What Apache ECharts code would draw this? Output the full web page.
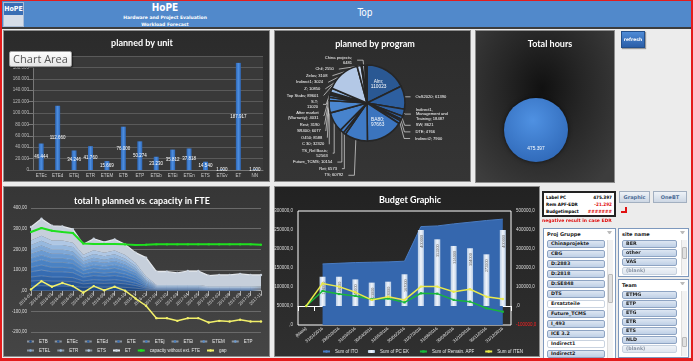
<!DOCTYPE html>
<html>
<head>
<meta charset="utf-8">
<title>HoPE - Top</title>
<script src="https://cdn.jsdelivr.net/npm/echarts@6.0.0/dist/echarts.min.js"></script>
<style>
html,body{margin:0;padding:0;}
body{width:693px;height:361px;overflow:hidden;background:#ececec;position:relative;font-family:'DejaVu Sans',sans-serif;}
.abs{position:absolute;box-sizing:border-box;}
#frame{left:0;top:0;width:693px;height:361px;border:2px solid #e31c1c;border-top-width:1px;border-bottom-width:3px;z-index:6;pointer-events:none;}
#header{left:2px;top:1px;width:689px;height:27px;background:#5189cb;z-index:1;}
#hline{left:2px;top:27px;width:689px;height:2px;background:#3c3c3c;z-index:1;}
.htxt{position:absolute;color:#fff;font-weight:bold;white-space:nowrap;transform:translateX(-50%);text-align:center;}
#logo{left:3px;top:2px;width:21px;height:25px;border:1px solid #a9bcd6;z-index:2;background:#d6dde8;}
#logoTop{left:0;top:0;width:19px;height:12px;background:#3a6eb4;color:#fff;font:bold 7px 'DejaVu Sans Condensed','DejaVu Sans';line-height:12px;text-align:center;}
.panel{border:1px solid #8c8c8c;z-index:1;}
#p1{left:3px;top:30px;width:267px;height:152px;background:linear-gradient(#2b2b2b,#363636);}
#p2{left:274px;top:30px;width:197px;height:152px;background:linear-gradient(#2c2c2c,#353535);}
#p3{left:475px;top:30px;width:140px;height:153px;background:radial-gradient(ellipse at 48% 38%,#111 0%,#262626 40%,#3d3d3d 90%);}
#p4{left:3px;top:186px;width:267px;height:171px;background:linear-gradient(#363636,#454545);}
#p5{left:274px;top:186px;width:266px;height:171px;background:linear-gradient(#222,#303030);}
#chart{left:0;top:0;width:693px;height:361px;z-index:3;}
#chartArea{left:9px;top:51px;width:63px;height:16px;z-index:4;background:linear-gradient(#fdfdfd,#e6e6e6);border:1px solid #9a9a9a;border-radius:2px;color:#555;font:11px 'Open Sans','Liberation Sans',sans-serif;line-height:14px;text-align:center;box-shadow:1px 1px 1px rgba(0,0,0,0.4);}
.btn{z-index:4;text-align:center;font-weight:bold;white-space:nowrap;}
#refresh{left:621px;top:31px;width:24px;height:17px;background:linear-gradient(#4f8bd6,#2a5ea8);border:1px solid #24508c;color:#fff;font-size:4.5px;line-height:15px;box-shadow:1px 1px 1px rgba(0,0,0,0.35);}
.gbtn{top:191px;height:12px;background:linear-gradient(#eef2f7,#cdd7e4);border:1px solid #a2afc0;color:#4b6b96;font-size:5px;line-height:10px;}
#info{left:542px;top:191px;width:74px;height:26px;background:#fff;border:2px solid #222;z-index:4;font-weight:bold;font-size:4.6px;font-family:'DejaVu Sans Condensed','DejaVu Sans';}
.row{position:absolute;left:2px;right:2px;height:7px;line-height:7px;white-space:nowrap;}
.row span.v{position:absolute;right:0;top:0;}
.red{color:#e01010;}
#note{left:542px;top:217px;width:80px;height:7px;z-index:4;color:#e01010;font:bold 4.5px 'DejaVu Sans';line-height:7px;white-space:nowrap;}
#arrow{left:621px;top:207px;width:6px;height:6px;z-index:4;border-right:2px solid #e01010;border-bottom:2px solid #e01010;}
.slicer{background:#fff;border:1px solid #7d98bd;z-index:4;}
.sh{position:absolute;left:3px;top:2px;font:bold 5px 'DejaVu Sans';color:#222;white-space:nowrap;}
.filt{position:absolute;right:3px;top:2px;width:5px;height:5px;border-top:3px solid #bbb;border-left:2px solid transparent;border-right:2px solid transparent;box-sizing:border-box;}
.it{position:absolute;height:8px;border:1px solid #8ea4c3;border-radius:2px;background:linear-gradient(#dde6f2,#bfd0e6);font:bold 4.8px 'DejaVu Sans';line-height:6px;padding-left:3px;color:#1c1c1c;box-sizing:border-box;white-space:nowrap;overflow:hidden;}
.it.w{background:#fff;border-color:#c9d3e0;}
.it.f{color:#8a96a6;background:linear-gradient(#eef2f7,#dfe6ef);border-color:#c6d1de;}
.sb{position:absolute;width:5px;background:#f2f2f2;border-left:1px solid #ddd;}
.thumb{position:absolute;left:0;width:5px;background:#e0e0e0;border:1px solid #b9b9b9;box-sizing:border-box;border-radius:1px;}
</style>
</head>
<body>
<div id="frame" class="abs"></div>
<div id="header" class="abs">
  <div class="htxt" style="left:163px;top:1px;font-size:10px;font-family:'DejaVu Sans Condensed','DejaVu Sans';">HoPE</div>
  <div class="htxt" style="left:163px;top:14px;font-size:4.5px;">Hardware and Project Evaluation</div>
  <div class="htxt" style="left:163px;top:21px;font-size:4.5px;">Workload Forecast</div>
  <div class="htxt" style="left:363px;top:6px;font-size:10px;font-weight:normal;font-family:'DejaVu Sans Condensed','DejaVu Sans';">Top</div>
</div>
<div id="hline" class="abs"></div>
<div id="logo" class="abs"><div id="logoTop" class="abs">HoPE</div></div>

<div id="p1" class="abs panel"></div>
<div id="p2" class="abs panel"></div>
<div id="p3" class="abs panel"></div>
<div id="p4" class="abs panel"></div>
<div id="p5" class="abs panel"></div>

<div id="chart" class="abs"></div>
<div id="chartArea" class="abs">Chart Area</div>

<div id="refresh" class="abs btn">refresh</div>
<div class="abs btn gbtn" style="left:619px;width:31px;">Graphic</div>
<div class="abs btn gbtn" style="left:653px;width:34px;">OneBT</div>

<div id="info" class="abs">
  <div class="row" style="top:1px;">Label PC<span class="v">475.397</span></div>
  <div class="row" style="top:8px;">Rem APF-EDR<span class="v red">-21.292</span></div>
  <div class="row" style="top:15px;">Budgetimpact<span class="v red">#######</span></div>
</div>
<div id="note" class="abs">negative result in case EDR</div>
<div id="arrow" class="abs"></div>

<div class="abs slicer" style="left:543px;top:228px;width:73px;height:140px;">
  <div class="sh">Proj Gruppe</div><div class="filt"></div>
  <div class="it" style="left:3px;top:11px;width:58px;">Chinaprojekte</div>
  <div class="it" style="left:3px;top:21px;width:58px;">CBG</div>
  <div class="it" style="left:3px;top:31px;width:58px;">D:2883</div>
  <div class="it" style="left:3px;top:41px;width:58px;">D:2818</div>
  <div class="it" style="left:3px;top:51px;width:58px;">D:SE848</div>
  <div class="it" style="left:3px;top:61px;width:58px;">DTS</div>
  <div class="it w" style="left:3px;top:71px;width:58px;">Ersatzteile</div>
  <div class="it" style="left:3px;top:81px;width:58px;">Future_TCMS</div>
  <div class="it" style="left:3px;top:91px;width:58px;">I_493</div>
  <div class="it" style="left:3px;top:101px;width:58px;">ICE 3.2</div>
  <div class="it w" style="left:3px;top:111px;width:58px;">Indirect1</div>
  <div class="it" style="left:3px;top:121px;width:58px;">Indirect2</div>
  <div class="sb" style="left:63px;top:11px;height:125px;"><div class="thumb" style="top:34px;height:29px;"></div></div>
</div>

<div class="abs slicer" style="left:618px;top:228px;width:71px;height:49px;">
  <div class="sh">site name</div><div class="filt"></div>
  <div class="it" style="left:3px;top:11px;width:55px;">BER</div>
  <div class="it" style="left:3px;top:20px;width:55px;">other</div>
  <div class="it" style="left:3px;top:29px;width:55px;">VAS</div>
  <div class="it f" style="left:3px;top:38px;width:55px;">(blank)</div>
  <div class="sb" style="left:62px;top:11px;height:35px;"><div class="thumb" style="top:7px;height:12px;"></div></div>
</div>

<div class="abs slicer" style="left:618px;top:279px;width:71px;height:79px;">
  <div class="sh">Team</div><div class="filt"></div>
  <div class="it" style="left:3px;top:11px;width:55px;">ETMG</div>
  <div class="it" style="left:3px;top:20px;width:55px;">ETP</div>
  <div class="it" style="left:3px;top:29px;width:55px;">ETG</div>
  <div class="it" style="left:3px;top:38px;width:55px;">ETR</div>
  <div class="it" style="left:3px;top:47px;width:55px;">ETS</div>
  <div class="it" style="left:3px;top:56px;width:55px;">NLD</div>
  <div class="it f" style="left:3px;top:65px;width:55px;">(blank)</div>
  <div class="sb" style="left:62px;top:11px;height:65px;"><div class="thumb" style="top:46px;height:10px;"></div></div>
</div>

<script>
// ---------------- data ----------------
const unitCats = ['ETEc','ETEd','ETEj','ETR','ETEM','ETB','ETP','ETEb','ETEi','ETEn','ETS','ETEv','ET','NN'];
const unitHours = [46444,112660,34246,41760,15669,76000,50274,23230,35812,37818,14540,1000,187917,1000];

const progNames = ['Alm','OxS2020','Indirect1,\nManagement and\nTraining','SW','DTE','Indirect2','BA80','TS','Ret','Future_TCMS','TS_Rel Basis','C 30','O450','SR400','Rest','After market\n(Warranty)','S.T','Top Stabs','Z','Indirect1','China projects','Zelos','Chil'];
const progHours = [110023,61390,18487,8621,4766,7900,97663,60792,6573,10154,52563,32320,8588,6077,3190,4031,11020,89601,10850,3024,6481,3108,2550];

const totalHours = 475397;

const months = ['2016-01','2016-02','2016-03','2016-04','2016-05','2016-06','2016-07','2016-08','2016-09','2016-10','2016-11','2016-12','2017-01','2017-02','2017-03','2017-04','2017-05','2017-06','2017-07','2017-08','2017-09','2017-10','2017-11'];
const teamNames = ['ETB','ETEc','ETEd','ETE','ETEj','ETEi','ETEM','ETP','ETEL','ETR','ETS','ET'];
const hETB  = [22,24,22,22,21,16,18,17,18,16,12,6,4,4,4,4,4,3,3,3,3,3,3];
const hETEc = [24,26,24,24,23,17,19,18,19,17,13,6,3,3,3,3,3,3,3,3,3,3,3];
const hETEd = [20,22,20,20,19,14,16,15,16,14,11,5,2,2,2,2,2,2,2,2,2,2,2];
const hETE  = [25,28,25,25,24,18,20,19,20,18,14,6,3,3,3,3,3,2,2,2,2,2,2];
const hETEj = [22,24,22,22,21,16,17,16,17,15,12,5,2,2,2,2,2,2,2,2,2,2,2];
const hETEi = [24,26,24,24,23,17,19,18,19,17,13,6,2,2,2,2,2,2,2,2,2,2,2];
const hETEM = [20,22,20,20,19,14,16,15,16,14,11,5,2,2,2,2,2,1,1,1,1,1,1];
const hETP  = [22,24,22,22,21,16,18,17,18,16,12,6,2,2,2,2,2,1,1,1,1,1,1];
const hETEL = [20,22,20,20,19,14,16,15,16,14,11,6,2,2,2,2,2,1,1,1,1,1,1];
const hETR  = [22,24,22,22,21,16,18,16,17,15,12,8,2,2,2,2,2,1,1,1,1,1,1];
const hETS  = [22,24,22,22,21,16,18,17,18,16,13,10,3,3,3,3,3,2,2,2,2,2,2];
const hET   = [65,82,71,68,66,50,56,52,54,52,50,91,65,65,59,68,68,53,56,56,61,56,56];
const capacity = [284,303,290,284,279,228,226,226,226,224,221,222,224,224,224,224,224,224,224,224,224,224,222];
const gap = [6,46,19,37,22,-10,22,2,19,0,-38,-73,-133,-133,-146,-133,-133,-154,-146,-149,-141,-149,-149];

const budgetCats = ['(blank)','31/01/2016','29/02/2016','31/03/2016','30/04/2016','31/05/2016','30/06/2016','31/07/2016','31/08/2016','30/09/2016','31/10/2016','30/11/2016','31/12/2016'];
const sumITO = [null,160700,162500,164300,165200,166100,167900,259000,260700,266100,270500,275000,278600];
const sumPCEK = [null,154000,154000,140000,123000,128000,167000,400000,351000,316000,304000,272000,400000];
const sumRemainAPF = [0,79000,63000,53000,35000,40000,19000,67000,65000,32000,23000,-12000,-30000];
const sumITEN = [0,119000,102000,72000,32000,49000,32000,102000,102000,75000,88000,49000,37000];

// ---------------- styles ----------------
const teamSeriesData = [hETB,hETEc,hETEd,hETE,hETEj,hETEi,hETEM,hETP,hETEL,hETR,hETS,hET];
const teamColors = ['#1f4a85','#275696','#2f62a5','#366cb2','#3f77bb','#4a82c3','#588dca','#6a9ad1','#7fa8d7','#96b8de','#afc7e4','#c6cfdb'];
const progColors = ['#2a5893','#2d5fa0','#3063a6','#3366aa','#3569ad','#386db1','#3b74be','#3f7ac5','#417dc8','#447fca','#4783cd','#4b87d0','#518bd1','#5890d3','#6196d5','#6c9dd7','#8fb3df','#b3c8e6','#c3d3ec','#cfdbf0','#d9e2f3','#e2e9f5','#eaeff7'];
const insideLabel = new Set(['Alm','BA80']);
const wrapLabel = new Set(['Alm','BA80','TS_Rel Basis','S.T','China projects']);

const deFmt = v => Number(v).toLocaleString('de-DE');
const font = "'Liberation Sans', sans-serif";
const titleStyle = {color:'#ffffff', fontSize:9, fontWeight:'bold', fontFamily:"'Lato', sans-serif"};

// capacity grid geometry (used to put the category axis on the value 0 line)
const capTop = 208, capHeight = 124, capMin = -200, capMax = 400;
const capZeroOffset = -capHeight * (0 - capMin) / (capMax - capMin);

const chart = echarts.init(document.getElementById('chart'), null, {renderer:'canvas', width:693, height:361});

const series = [];
// 1 planned by unit
series.push({
  type:'bar', name:'planned by unit', xAxisIndex:0, yAxisIndex:0, data:unitHours, barWidth:5,
  itemStyle:{color:new echarts.graphic.LinearGradient(0,0,1,0,[{offset:0,color:'#2d66b5'},{offset:0.5,color:'#4d8ee0'},{offset:1,color:'#2d66b5'}])},
  label:{show:true, position:'inside', color:'#fff', fontSize:4.5, fontFamily:font, formatter:p=>deFmt(p.value)},
  emphasis:{disabled:true}
});
// 2 planned by program
series.push({
  type:'pie', name:'planned by program', center:[367,103], radius:38, startAngle:90, clockwise:true,
  avoidLabelOverlap:true, minShowLabelAngle:0,
  itemStyle:{borderColor:'#262626', borderWidth:1.6},
  label:{color:'#ffffff', fontSize:4.1, lineHeight:4.6, fontFamily:font,
    formatter:p=> wrapLabel.has(p.name) ? p.name+';\n'+p.value : p.name+'; '+p.value},
  labelLine:{length:5, length2:6, lineStyle:{color:'#ffffff', width:0.6}},
  data:progNames.map((n,i)=>({name:n, value:progHours[i], itemStyle:{color:progColors[i]},
      label: insideLabel.has(n) ? {position:'inside', fontSize:4.8, lineHeight:5.5} : undefined})),
  emphasis:{disabled:true}
});
// 3 total hours
series.push({
  type:'pie', name:'Total hours', center:[536,130], radius:32,
  itemStyle:{color:new echarts.graphic.RadialGradient(0.45,0.35,0.8,[{offset:0,color:'#4f91e2'},{offset:1,color:'#2b63b2'}]), shadowColor:'rgba(0,0,0,0.6)', shadowBlur:4},
  label:{position:'inside', color:'#fff', fontSize:4.8, fontFamily:font, formatter:p=>deFmt(p.value)},
  data:[{name:'Total hours', value:totalHours}],
  emphasis:{disabled:true}
});
// 4 capacity
teamNames.forEach((n,i)=>{
  const top = i === teamNames.length-1;
  series.push({
    type:'line', name:n, xAxisIndex:1, yAxisIndex:1, stack:'hours', data:teamSeriesData[i],
    symbol: top ? 'circle' : 'none', symbolSize:2.4, showSymbol:top,
    itemStyle:{color:teamColors[i]},
    lineStyle:{width: top ? 1.2 : 0.5, color: top ? '#e3e7ec' : 'rgba(200,215,235,0.55)'},
    areaStyle:{color:teamColors[i], opacity:1},
    emphasis:{disabled:true}, z:2
  });
});
series.push({type:'line', name:'capacity without ext. FTE', xAxisIndex:1, yAxisIndex:1, data:capacity,
  symbol:'rect', symbolSize:2, itemStyle:{color:'#1fe01f'}, lineStyle:{color:'#1fe01f', width:2}, emphasis:{disabled:true}, z:4});
series.push({type:'line', name:'gap', xAxisIndex:1, yAxisIndex:1, data:gap,
  symbol:'circle', symbolSize:2.4, itemStyle:{color:'#f2f06a'}, lineStyle:{color:'#f2f06a', width:1.5}, emphasis:{disabled:true}, z:4});
// 5 budget
series.push({type:'line', name:'Sum of ITO', xAxisIndex:2, yAxisIndex:2, data:sumITO, symbol:'none',
  itemStyle:{color:'#4a7cc2'}, lineStyle:{color:'#4a7cc2', width:1}, areaStyle:{color:'#3567ae', opacity:1}, emphasis:{disabled:true}, z:1});
series.push({type:'bar', name:'Sum of PC EK', xAxisIndex:2, yAxisIndex:3, data:sumPCEK, barWidth:6,
  itemStyle:{color:new echarts.graphic.LinearGradient(0,0,1,0,[{offset:0,color:'#b9cde6'},{offset:0.5,color:'#f0f4fa'},{offset:1,color:'#b9cde6'}])},
  label:{show:true, position:'insideTop', rotate:90, align:'right', verticalAlign:'middle', offset:[0,1], fontSize:3.8, color:'#666', fontFamily:font},
  emphasis:{disabled:true}, z:2});
series.push({type:'line', name:'Sum of Remain. APF', xAxisIndex:2, yAxisIndex:3, data:sumRemainAPF,
  symbol:'rect', symbolSize:2.2, itemStyle:{color:'#18b83a'}, lineStyle:{color:'#18b83a', width:1.5}, emphasis:{disabled:true}, z:4});
series.push({type:'line', name:'Sum of ITEN', xAxisIndex:2, yAxisIndex:3, data:sumITEN,
  symbol:'circle', symbolSize:2.4, itemStyle:{color:'#eaea4a'}, lineStyle:{color:'#eaea4a', width:1.5}, emphasis:{disabled:true}, z:4});

const legendBase = {itemWidth:7, itemHeight:3, textStyle:{color:'#e8e8e8', fontSize:4.5, fontFamily:font}, selectedMode:false, orient:'horizontal', padding:0};

const option = {
  animation:false,
  backgroundColor:'transparent',
  textStyle:{fontFamily:font},
  title:[
    {text:'planned by unit', left:137, top:34, textAlign:'center', textStyle:titleStyle},
    {text:'planned by program', left:370, top:35, textAlign:'center', textStyle:titleStyle},
    {text:'Total hours', left:545, top:35, textAlign:'center', textStyle:titleStyle},
    {text:'total h planned vs. capacity in FTE', left:137, top:192, textAlign:'center', textStyle:titleStyle},
    {text:'Budget Graphic', left:405, top:191, textAlign:'center', textStyle:titleStyle}
  ],
  legend:[
    Object.assign({}, legendBase, {left:26, top:339, itemGap:6, data:teamNames.slice(0,8)}),
    Object.assign({}, legendBase, {left:26, top:348, itemGap:6, data:teamNames.slice(8).concat(['capacity without ext. FTE','gap'])}),
    Object.assign({}, legendBase, {left:322, top:349, itemGap:10, data:['Sum of ITO','Sum of PC EK','Sum of Remain. APF','Sum of ITEN']})
  ],
  grid:[
    {left:33, top:56, width:230, height:114, outerBoundsMode:'none', show:true, backgroundColor:'#393939', borderWidth:0},
    {left:31, top:capTop, width:230, height:capHeight, outerBoundsMode:'none'},
    {left:298, top:211, width:213, height:114, outerBoundsMode:'none', show:true, borderColor:'#ffffff', borderWidth:1, backgroundColor:'transparent'}
  ],
  xAxis:[
    {gridIndex:0, type:'category', data:unitCats,
      axisLabel:{interval:0, fontSize:4.5, color:'#cccccc', margin:3, fontFamily:font},
      axisTick:{show:false}, axisLine:{lineStyle:{color:'#777777'}}},
    {gridIndex:1, type:'category', data:months, boundaryGap:false, position:'bottom', offset:capZeroOffset,
      axisLabel:{interval:0, rotate:45, fontSize:4.3, color:'#dddddd', margin:3, fontFamily:font},
      axisTick:{show:true, alignWithLabel:true, lineStyle:{color:'#aaaaaa'}},
      axisLine:{onZero:false, lineStyle:{color:'#aaaaaa'}}},
    {gridIndex:2, type:'category', data:budgetCats,
      axisLabel:{interval:0, rotate:40, fontSize:4.3, color:'#eeeeee', margin:3, fontFamily:font},
      axisLine:{onZero:true, onZeroAxisIndex:3, lineStyle:{color:'#ffffff'}},
      axisTick:{show:true, lineStyle:{color:'#ffffff'}}}
  ],
  yAxis:[
    {gridIndex:0, type:'value', min:0, max:200000, interval:20000,
      axisLabel:{formatter:deFmt, fontSize:4.5, color:'#bbbbbb', margin:4, fontFamily:font},
      splitLine:{lineStyle:{color:'#5a5a5a'}}, axisLine:{show:true, lineStyle:{color:'#777777'}}, axisTick:{show:true, lineStyle:{color:'#777777'}}},
    {gridIndex:1, type:'value', min:capMin, max:capMax, interval:100,
      axisLabel:{formatter:v=>(v===0?'':v)+',00', fontSize:4.5, color:'#dddddd', margin:4, fontFamily:font},
      splitLine:{lineStyle:{color:'#6a6a6a'}}, axisLine:{show:false}},
    {gridIndex:2, type:'value', min:0, max:300000, interval:50000,
      axisLabel:{formatter:v=>(v===0?'':v)+',0', fontSize:4.5, color:'#dddddd', margin:5, fontFamily:font},
      splitLine:{show:false}, axisLine:{show:false}},
    {gridIndex:2, type:'value', position:'right', min:-100000, max:500000, interval:100000,
      axisLabel:{formatter:v=>(v===0?'':v)+',0', fontSize:4.5, color:v=>(v<0?'#ff2020':'#dddddd'), margin:5, fontFamily:font},
      splitLine:{show:false}, axisLine:{show:false}}
  ],
  series:series
};
chart.setOption(option);
</script>
</body>
</html>
